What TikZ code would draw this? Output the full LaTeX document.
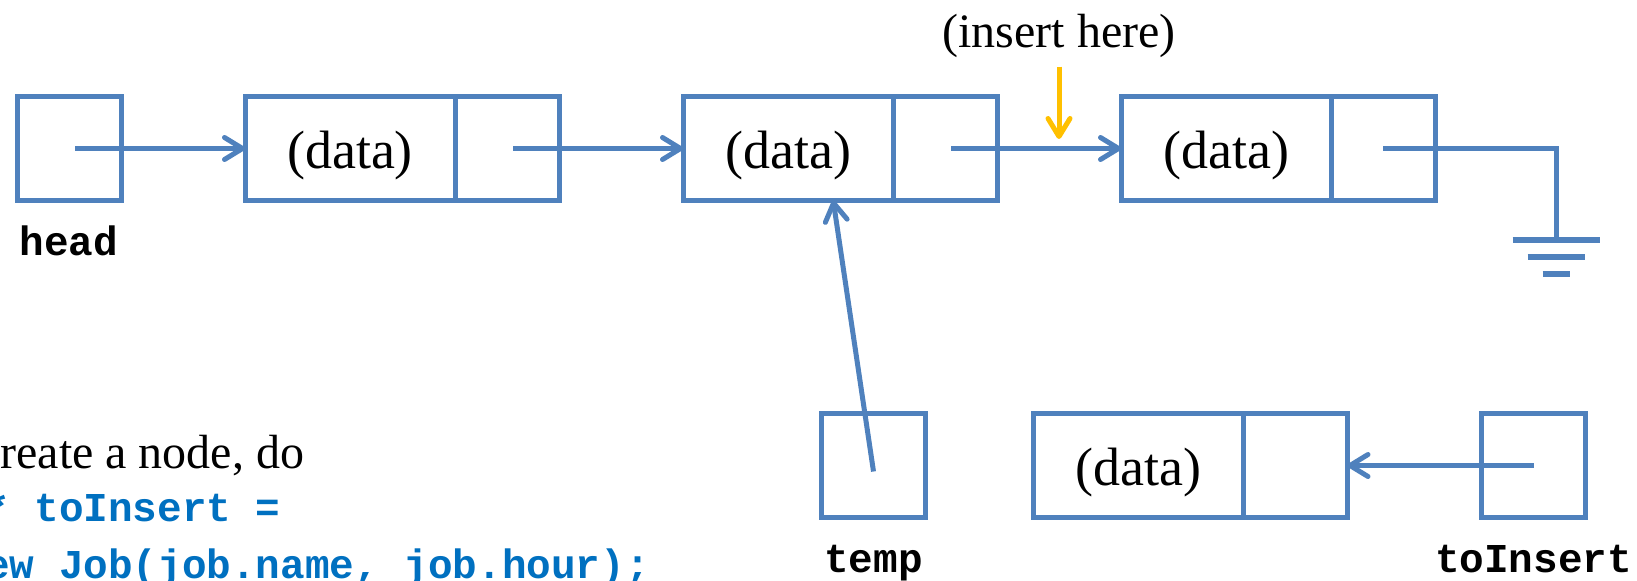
\documentclass[tikz,border=0pt]{standalone}
\usepackage{fontspec}
\setmainfont{Liberation Serif}
\setmonofont{Liberation Mono}
\usetikzlibrary{arrows.meta,positioning}

\definecolor{listblue}{HTML}{4F81BD}
\definecolor{hintgold}{HTML}{FFC000}
\definecolor{codeblue}{HTML}{0070C0}

\begin{document}
\begin{tikzpicture}[
  x=0.5pt, y=-0.5pt,
  >={Straight Barb[length=9pt,width=11pt,round]},
  node distance=62pt,
  cell/.style={draw=listblue,line width=2.5pt,outer sep=0pt,inner sep=0pt,
    minimum width=52pt,minimum height=52pt,font=\fontsize{27}{32}\selectfont},
  datacell/.style={cell,minimum width=105pt,text height=25.5pt,text depth=6pt},
  ptr/.style={->,draw=listblue,line width=2.5pt},
  wire/.style={draw=listblue,line width=2.5pt},
  earth/.style={draw=listblue,line width=3pt},
  hint/.style={->,draw=hintgold,line width=2.5pt},
  varlbl/.style={inner sep=0pt,text height=12.7pt,text depth=4pt,
    font=\fontsize{20.5}{24}\selectfont\ttfamily\bfseries},
  codeline/.style={inner sep=0pt,anchor=base west,text=codeblue,
    font=\fontsize{20.5}{24}\selectfont\ttfamily\bfseries},
  prose/.style={font=\fontsize{24}{28}\selectfont}
]
  \useasboundingbox (0,0) rectangle (1637,580);

  % the list: head pointer and three cells
  \node[cell] (head) at (69,148.5) {};
  \node[datacell,right=of head] (d1) {(data)};
  \node[cell,right=0pt of d1] (p1) {};
  \node[datacell,right=of p1] (d2) {(data)};
  \node[cell,right=0pt of d2] (p2) {};
  \node[datacell,right=of p2] (d3) {(data)};
  \node[cell,right=0pt of d3] (p3) {};

  % new cell and its two pointers
  \node[cell] (temp) at (873.5,465.5) {};
  \node[datacell,anchor=west] (d4) at (1033.5,465.5) {(data)};
  \node[cell,right=0pt of d4] (p4) {};
  \node[cell,right=67pt of p4] (toins) {};

  \node[varlbl,below=14.5pt of head] (headlbl) {head};
  \node[varlbl,below=14.5pt of temp] (templbl) {temp};
  \node[varlbl,below=14.5pt of toins] (toinslbl) {toInsert};

  \draw[ptr] ([xshift=3pt]head.center) -- (d1.west);
  \draw[ptr] ([xshift=3pt]p1.center) -- (d2.west);
  \draw[ptr] ([xshift=3pt]p2.center) -- (d3.west);
  \draw[ptr] ([yshift=-3pt]temp.center) -- (d2.-49);
  \draw[ptr] (toins.center) -- (p4.east);

  % null pointer at the tail
  \coordinate (gnd) at (1556,240);
  \draw[wire] (p3.center) -| (gnd);
  \draw[earth] (gnd) ++(-43.5,0) -- ++(87,0);
  \draw[earth] (gnd) ++(-28.5,17) -- ++(57,0);
  \draw[earth] (gnd) ++(-13.5,34) -- ++(27,0);

  % where the new cell goes
  \path (p2.east) -- coordinate[pos=.5] (gap) (d3.west);
  \node[prose,above=42pt of gap] (here) {(insert here)};
  \draw[hint] ([yshift=-1pt]here.south) -- ([yshift=4.75pt]gap);

  \node[prose,inner sep=0pt,anchor=base west] (howto) at (0,468) {reate a node, do};
  \node[codeline] (code1) at (-15,521) {* toInsert =};
  \node[codeline] (code2) at (-15,578) {ew Job(job.name, job.hour);};
\end{tikzpicture}
\end{document}
